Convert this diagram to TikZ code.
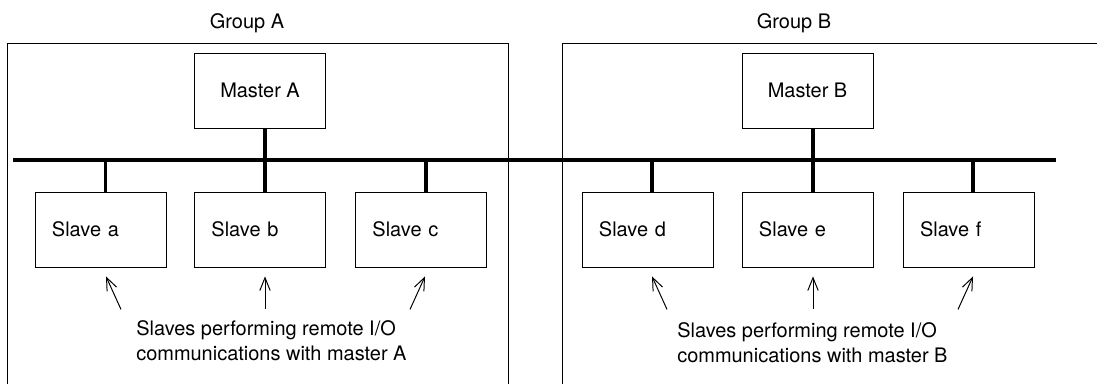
\documentclass[tikz,border=0pt]{standalone}
\usepackage{fontspec}
\setmainfont{TeX Gyre Heros}
\usetikzlibrary{positioning, arrows.meta, calc}

\begin{document}
\begin{tikzpicture}[
  x=0.025cm, y=-0.025cm,
  font=\fontsize{14.2}{17.8}\selectfont,
  master/.style={draw, line width=0.6pt, minimum width=3.275cm,
                 minimum height=1.875cm, inner sep=0pt},
  slave/.style={draw, line width=0.6pt, minimum width=3.275cm,
                minimum height=1.875cm, inner xsep=0.425cm, inner ysep=0pt,
                text width=2.425cm, align=left},
  frame/.style={line width=0.6pt},
  bus/.style={line width=2.2pt},
  drop/.style={line width=2.2pt},
  pointer/.style={-{Straight Barb[length=3.2mm, width=2.6mm]}, line width=0.7pt},
  note/.style={align=left, inner sep=0pt, anchor=north west},
]
\useasboundingbox (0,0) rectangle (1097,385);

% Group frames (open at the bottom)
\draw[frame] (7,384) |- (508,43) -- (508,384);
\draw[frame] (562,384) |- (1097,43);
\node[anchor=base] (gA) at (247,28.5) {Group A};
\node[anchor=base] (gB) at (794,28.5) {Group B};

% Shared network line
\coordinate (busL) at (13,160);
\coordinate (busR) at (1056,160);
\draw[bus] (busL) -- (busR);

% Left: group A
\node[master] (mA) at (260,90.5)  {Master A};
\node[slave]  (sa) at (100.5,229.5) {Slave a};
\node[slave]  (sb) at (260,229.5)   {Slave b};
\node[slave]  (sc) at (421,229.5)   {Slave c};
\draw[drop] ([xshift=1.25mm]mA.south) -- ([xshift=1.25mm]mA.south |- busL);
\draw[drop] ([xshift=1.25mm]sa.north) -- ([xshift=1.25mm]sa.north |- busL);
\draw[drop] ([xshift=1.25mm]sb.north) -- ([xshift=1.25mm]sb.north |- busL);
\draw[drop] ([xshift=1.25mm]sc.north) -- ([xshift=1.25mm]sc.north |- busL);
\coordinate (ta) at ($(sa.south)+(20.5,42)$);
\coordinate (tb) at ($(sb.south)+(5,42)$);
\coordinate (tc) at ($(sc.south)+(-11,42)$);
\draw[pointer] (ta) -- ($(sa.south)+(5.5,9)$);
\draw[pointer] (tb) -- ($(sb.south)+(5,9)$);
\draw[pointer] (tc) -- ($(sc.south)+(4,9)$);
\node[note] (nA) at (136,320)
  {Slaves performing remote I/O\\communications with master A};

% Right: group B
\node[master] (mB) at (807.5,90.5)  {Master B};
\node[slave]  (sd) at (647.5,229.5) {Slave d};
\node[slave]  (se) at (807.5,229.5) {Slave e};
\node[slave]  (sf) at (968.5,229.5) {Slave f};
\draw[drop] ([xshift=1.375mm]mB.south) -- ([xshift=1.375mm]mB.south |- busL);
\draw[drop] ([xshift=1.125mm]sd.north) -- ([xshift=1.125mm]sd.north |- busL);
\draw[drop] ([xshift=1.375mm]se.north) -- ([xshift=1.375mm]se.north |- busL);
\draw[drop] ([xshift=1.125mm]sf.north) -- ([xshift=1.125mm]sf.north |- busL);
\coordinate (td) at ($(sd.south)+(19.5,42)$);
\coordinate (te) at ($(se.south)+(5.5,42)$);
\coordinate (tf) at ($(sf.south)+(-10.5,42)$);
\draw[pointer] (td) -- ($(sd.south)+(4.5,9)$);
\draw[pointer] (te) -- ($(se.south)+(5.5,9)$);
\draw[pointer] (tf) -- ($(sf.south)+(4.5,9)$);
\node[note] (nB) at (677,322)
  {Slaves performing remote I/O\\communications with master B};

\end{tikzpicture}
\end{document}
